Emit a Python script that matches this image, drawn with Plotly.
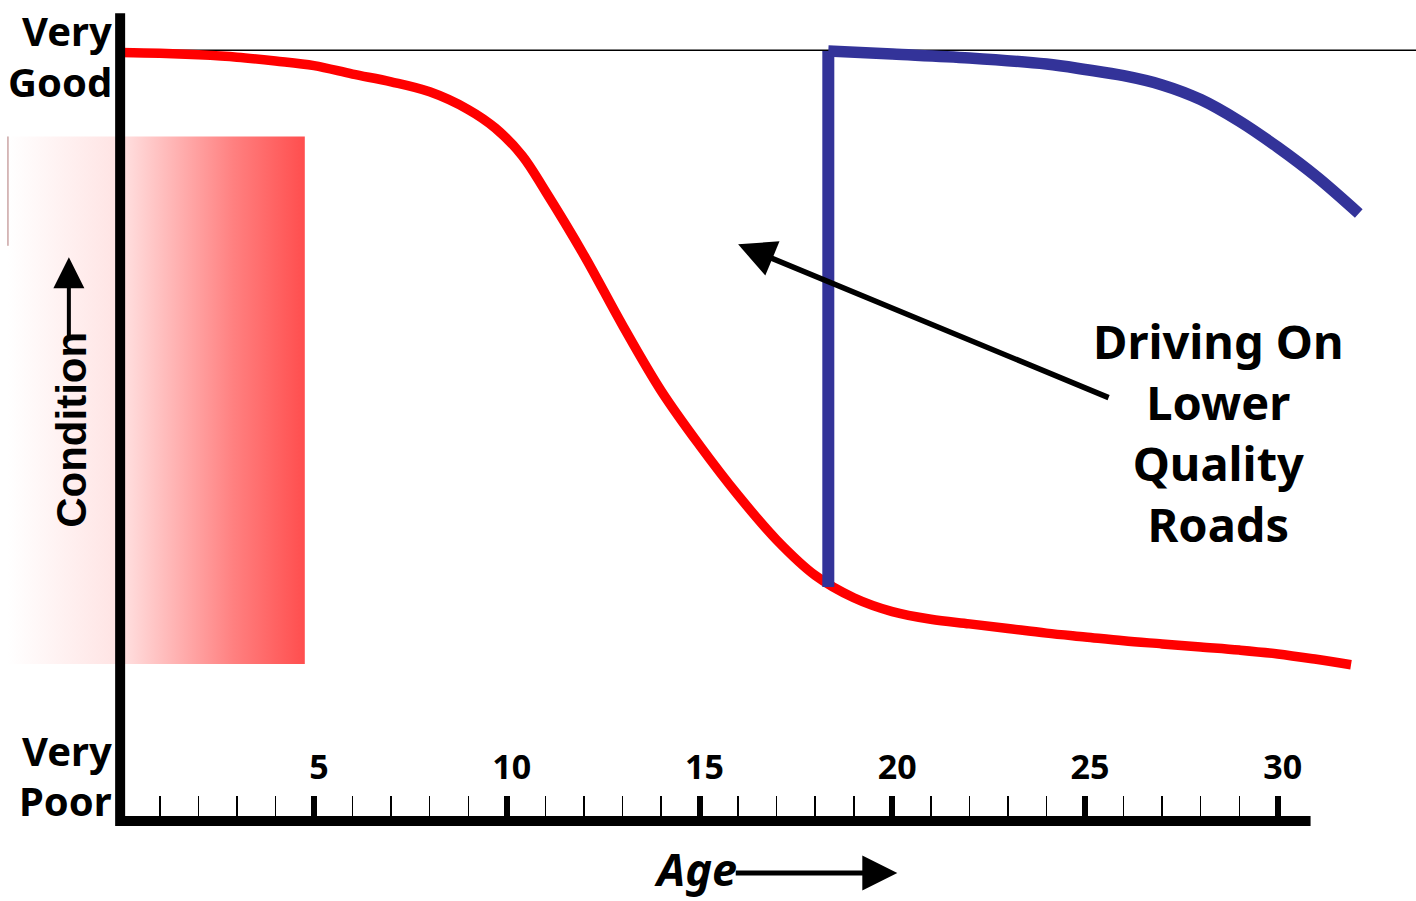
import plotly.graph_objects as go

# ---------------- data ----------------
red_age = [0, 1, 2, 3, 4, 5, 6, 7, 8, 9, 9.7, 10.4, 11, 12, 13, 14, 15, 16, 17, 18, 19, 20, 21, 22, 23, 24, 25, 26, 27, 28, 29, 30, 31, 31.9]
red_cond = [99.8, 99.7, 99.5, 99.2, 98.7, 98.1, 97.0, 96.0, 94.7, 92.4, 90.0, 86.4, 81.8, 73.5, 64.4, 55.9, 48.8, 42.3, 36.5, 31.9,
            29.0, 27.2, 26.2, 25.6, 25.0, 24.4, 23.9, 23.4, 23.0, 22.6, 22.2, 21.7, 21.0, 20.3]

blue_drop_age = [18.34, 18.34]
blue_drop_cond = [30.4, 100.0]

blue_age = [18.34, 20, 22, 24, 25, 26, 27, 28, 29, 30, 31, 32.1]
blue_cond = [100.0, 99.6, 99.1, 98.3, 97.6, 96.8, 95.6, 93.7, 90.9, 87.5, 83.7, 78.9]

major_ticks = [5, 10, 15, 20, 25, 30]
major_labels = ["5", "10", "15", "20", "25", "30"]
minor_ticks = [t for t in range(1, 30) if t % 5 != 0]

# ---------------- figure ----------------
W, H = 1416, 901
X0, SX = 121.3, 38.55   # pixel of age 0, pixels per year
Y0, SY = 821.0, 7.7     # pixel of condition 0, pixels per unit
xr = [-X0 / SX, (W - X0) / SX]
yr = [-(H - Y0) / SY, Y0 / SY]

comic = "Comic Sans MS, Noto Sans, sans-serif"

fig = go.Figure()

# gradient band
gx0, gx1 = -2.94, 4.76
gy0, gy1 = 20.4, 88.9
fig.add_trace(go.Scatter(
    x=[gx0, gx1, gx1, gx0, gx0], y=[gy0, gy0, gy1, gy1, gy0],
    mode="none", fill="toself",
    fillgradient=dict(type="horizontal", colorscale=[
        [0.0, "rgb(255,255,255)"],
        [0.377, "rgb(255,227,227)"],
        [0.59, "rgb(255,172,172)"],
        [0.76, "rgb(255,128,128)"],
        [1.0, "rgb(255,78,78)"],
    ]),
    hoverinfo="skip", showlegend=False,
))

fig.add_trace(go.Scatter(x=red_age, y=red_cond, mode="lines",
                         line=dict(color="#FF0000", width=9.5, shape="spline", smoothing=1.0),
                         hoverinfo="skip", showlegend=False))
fig.add_trace(go.Scatter(x=blue_drop_age, y=blue_drop_cond, mode="lines",
                         line=dict(color="#333399", width=12),
                         hoverinfo="skip", showlegend=False))
fig.add_trace(go.Scatter(x=blue_age, y=blue_cond, mode="lines",
                         line=dict(color="#333399", width=11.5, shape="spline", smoothing=1.0),
                         hoverinfo="skip", showlegend=False))

shapes = [
    # top reference line
    dict(type="line", xref="x", yref="y", x0=0, x1=xr[1], y0=100.1, y1=100.1,
         line=dict(color="black", width=1.5), layer="below"),
    # thin brown mark at left edge of band
    dict(type="line", xref="x", yref="y", x0=gx0, x1=gx0, y0=74.7, y1=gy1,
         line=dict(color="#B07878", width=1)),
    # y axis line
    dict(type="line", xref="x", yref="y", x0=-0.03, x1=-0.03, y0=-0.65, y1=104.9,
         line=dict(color="black", width=10)),
    # x axis line
    dict(type="line", xref="x", yref="y", x0=0, x1=30.85, y0=0, y1=0,
         line=dict(color="black", width=10)),
]

lab_font = dict(family=comic, size=40, color="black", weight="bold")
annotations = [
    dict(x=-0.2, y=102.7, text="Very", xanchor="right", yanchor="middle", showarrow=False, font=lab_font),
    dict(x=-0.2, y=96.0, text="Good", xanchor="right", yanchor="middle", showarrow=False, font=lab_font),
    dict(x=-0.2, y=9.2, text="Very", xanchor="right", yanchor="middle", showarrow=False, font=lab_font),
    dict(x=-0.2, y=2.6, text="Poor", xanchor="right", yanchor="middle", showarrow=False, font=lab_font),
    dict(x=-1.28, y=50.8, text="Condition", textangle=-90, showarrow=False,
         xanchor="center", yanchor="middle",
         font=dict(family="Liberation Sans, Arial, sans-serif", size=42, color="black", weight="bold")),
    # condition arrow
    dict(x=-1.36, y=73.2, ax=-1.36, ay=62.3, axref="x", ayref="y", text="",
         showarrow=True, arrowhead=2, arrowsize=1.55, arrowwidth=4, arrowcolor="black"),
    # big pointer arrow
    dict(x=16.0, y=74.9, ax=25.65, ay=54.9, axref="x", ayref="y", text="",
         showarrow=True, arrowhead=2, arrowsize=1.35, arrowwidth=5.5, arrowcolor="black"),
    dict(x=28.45, y=50.4, text="Driving On<br>Lower<br>Quality<br>Roads", showarrow=False,
         xanchor="center", yanchor="middle", align="center",
         font=dict(family=comic, size=47, color="black", weight="bold")),
    # Age label + arrow
    dict(x=13.77, y=-6.2, text="<i>Age</i>", xanchor="left", yanchor="middle", showarrow=False,
         font=dict(family=comic, size=45, color="black", weight="bold")),
    dict(x=20.13, y=-6.75, ax=15.9, ay=-6.75, axref="x", ayref="y", text="",
         showarrow=True, arrowhead=2, arrowsize=1.4, arrowwidth=5, arrowcolor="black"),
]

fig.update_layout(
    width=W, height=H,
    margin=dict(l=0, r=0, t=0, b=0),
    paper_bgcolor="white", plot_bgcolor="white",
    shapes=shapes, annotations=annotations,
    showlegend=False,
    xaxis=dict(
        range=xr, anchor="free", position=(H - Y0) / H,
        showgrid=False, zeroline=False, showline=False,
        tickmode="array", tickvals=major_ticks, ticktext=major_labels,
        ticks="inside", ticklen=25, tickwidth=6, tickcolor="black",
        ticklabelposition="inside", ticklabelshift=5, ticklabelstandoff=14,
        tickfont=dict(family=comic, size=34, color="black", weight="bold"),
        minor=dict(tickmode="array", tickvals=minor_ticks, ticks="inside",
                   ticklen=25, tickwidth=1.5, tickcolor="black", showgrid=False),
        fixedrange=True,
    ),
    yaxis=dict(range=yr, visible=False, fixedrange=True),
)

fig.write_html(
    "out.html",
    config={"displayModeBar": False, "staticPlot": True},
    post_script="document.body.style.margin='0';document.body.style.overflow='hidden';",
)
